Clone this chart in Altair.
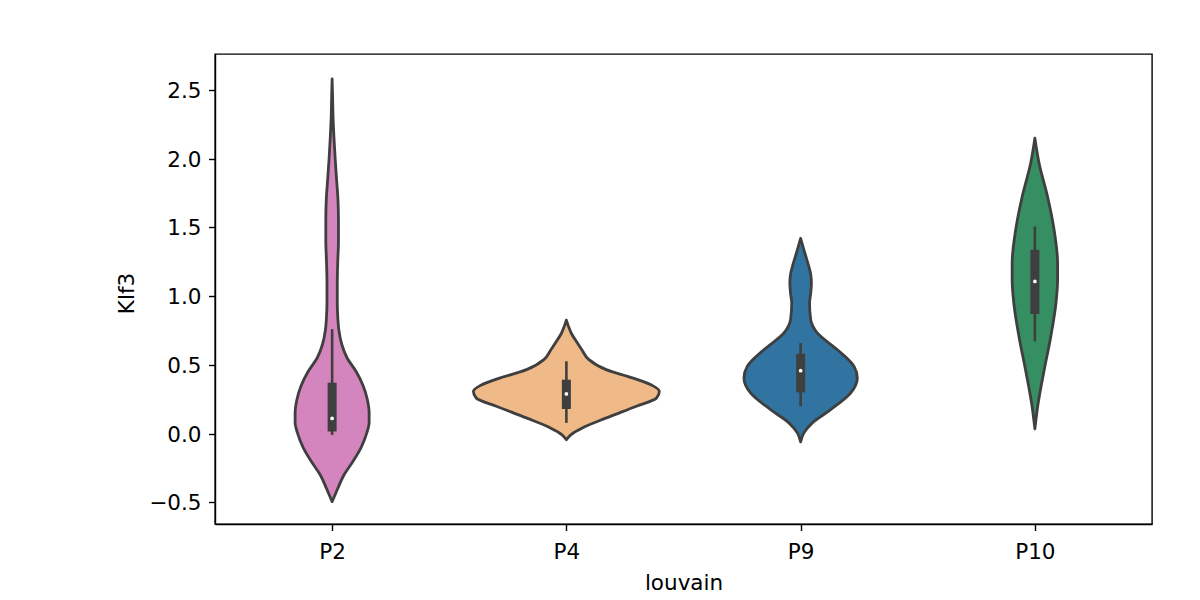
"""
Violin plot of Klf3 expression per louvain cluster, drawn with Altair layers.
"""

import json

import altair as alt
import pandas as pd

CLUSTERS = ["P2", "P4", "P9", "P10"]
FILLS = ["#d585be", "#efba87", "#3174a1", "#368e63"]
OUTLINE = "#3f3f3f"

# violin outlines: Klf3 level and half width (share of one slot)
P2_LEVELS = [2.58, 2.45, 2.30, 2.15, 2.00, 1.85, 1.70, 1.55, 1.40, 1.25, 1.10, 0.95,
             0.85, 0.75, 0.65, 0.55, 0.45, 0.35, 0.25, 0.15, 0.08, 0.00, -0.10, -0.20,
             -0.30, -0.40, -0.46, -0.495]
P2_HALF = [0.0, 0.002, 0.004, 0.008, 0.013, 0.019, 0.025, 0.027, 0.027, 0.024, 0.022, 0.022,
           0.024, 0.029, 0.041, 0.064, 0.103, 0.132, 0.150, 0.158, 0.158, 0.147, 0.124, 0.090,
           0.051, 0.024, 0.009, 0.0]

P4_LEVELS = [0.825, 0.78, 0.73, 0.67, 0.61, 0.54, 0.465, 0.405, 0.349, 0.308, 0.259, 0.199,
             0.114, 0.041, -0.007, -0.045]
P4_HALF = [0.0, 0.009, 0.021, 0.043, 0.066, 0.095, 0.170, 0.282, 0.368, 0.397, 0.385, 0.299,
           0.171, 0.068, 0.020, 0.0]

P9_LEVELS = [1.42, 1.337, 1.216, 1.16, 1.095, 1.02, 0.95, 0.828, 0.732, 0.61, 0.489, 0.405,
             0.296, 0.174, 0.078, 0.005, -0.06]
P9_HALF = [0.0, 0.014, 0.035, 0.043, 0.046, 0.043, 0.038, 0.043, 0.071, 0.157, 0.228, 0.242,
           0.214, 0.128, 0.050, 0.014, 0.0]

P10_LEVELS = [2.15, 1.967, 1.725, 1.483, 1.24, 1.119, 0.95, 0.707, 0.465, 0.199, 0.035]
P10_HALF = [0.0, 0.018, 0.054, 0.082, 0.097, 0.097, 0.090, 0.068, 0.040, 0.012, 0.0]

# inner box plot
WHISKER_LO = [-0.01, 0.078, 0.199, 0.671]
Q1 = [0.015, 0.179, 0.300, 0.870]
MEDIAN = [0.11, 0.288, 0.458, 1.107]
Q3 = [0.37, 0.392, 0.581, 1.337]
WHISKER_HI = [0.76, 0.526, 0.659, 1.507]


def build_violin_frame() -> pd.DataFrame:
    """Long table of violin outlines, one row per level."""
    profiles = [(P2_LEVELS, P2_HALF), (P4_LEVELS, P4_HALF),
                (P9_LEVELS, P9_HALF), (P10_LEVELS, P10_HALF)]
    rows = []
    for pos, (name, (levels, halves)) in enumerate(zip(CLUSTERS, profiles)):
        for level, half in sorted(zip(levels, halves)):
            rows.append({"cluster": name, "pos": pos, "klf3": level,
                         "lo": pos - half, "hi": pos + half})
    return pd.DataFrame(rows)


box_df = pd.DataFrame({
    "cluster": CLUSTERS,
    "pos": range(len(CLUSTERS)),
    "whisker_lo": WHISKER_LO,
    "q1": Q1,
    "median": MEDIAN,
    "q3": Q3,
    "whisker_hi": WHISKER_HI,
})

x_scale = alt.Scale(domain=[-0.5, len(CLUSTERS) - 0.5], nice=False, zero=False)
y_scale = alt.Scale(domain=[-0.658, 2.762], nice=False, zero=False)

x_axis = alt.Axis(
    values=list(range(len(CLUSTERS))),
    labelExpr="%s[datum.value]" % json.dumps(CLUSTERS),
    title="louvain", grid=False,
    labelBaseline="alphabetic", labelPadding=27.8,
    titleX=468.5, titleY=65, titleBaseline="alphabetic", titleAlign="center",
)
y_axis = alt.Axis(
    values=[-0.5, 0, 0.5, 1, 1.5, 2, 2.5], format=".1f",
    title="Klf3", grid=False,
    labelBaseline="alphabetic", labelOffset=7.5, labelPadding=7.5,
    titleX=-81.5, titleY=239, titleAngle=270, titleBaseline="alphabetic",
    titleAlign="center",
)

violins = (
    alt.Chart(build_violin_frame())
    .mark_area(orient="horizontal", interpolate="monotone", stroke=OUTLINE,
               strokeWidth=2.8, strokeJoin="round", opacity=1)
    .encode(
        y=alt.Y("klf3:Q", scale=y_scale, axis=y_axis),
        x=alt.X("lo:Q", scale=x_scale, axis=x_axis, stack=False),
        x2="hi:Q",
        color=alt.Color("cluster:N", scale=alt.Scale(domain=CLUSTERS, range=FILLS),
                        legend=None),
    )
)

whiskers = (
    alt.Chart(box_df)
    .mark_rule(color=OUTLINE, strokeWidth=2.6)
    .encode(
        x=alt.X("pos:Q", scale=x_scale, axis=x_axis),
        y=alt.Y("whisker_lo:Q", scale=y_scale, axis=y_axis),
        y2="whisker_hi:Q",
    )
)

boxes = (
    alt.Chart(box_df)
    .mark_rule(color=OUTLINE, strokeWidth=9)
    .encode(
        x=alt.X("pos:Q", scale=x_scale, axis=x_axis),
        y=alt.Y("q1:Q", scale=y_scale, axis=y_axis),
        y2="q3:Q",
    )
)

medians = (
    alt.Chart(box_df)
    .mark_point(filled=True, shape="circle", color="white", size=14, opacity=1)
    .encode(
        x=alt.X("pos:Q", scale=x_scale, axis=x_axis),
        y=alt.Y("median:Q", scale=y_scale, axis=y_axis),
    )
)

chart = (
    alt.layer(violins, whiskers, boxes, medians)
    .properties(
        width=937, height=470,
        autosize=alt.AutoSizeParams(type="none"),
        padding={"left": 207, "top": 46, "right": 30, "bottom": 72},
        background="white",
    )
    .configure_view(stroke="black", strokeWidth=1.4)
    .configure_axis(
        domainColor="black", domainWidth=1.4,
        tickColor="black", tickWidth=1.4, tickSize=6.5,
        labelColor="black", labelFont="DejaVu Sans", labelFontSize=21.5,
        titleColor="black", titleFont="DejaVu Sans", titleFontSize=21.5,
        titleFontWeight="normal",
    )
)

chart.save("out.html", embed_options={"renderer": "svg", "actions": False})
